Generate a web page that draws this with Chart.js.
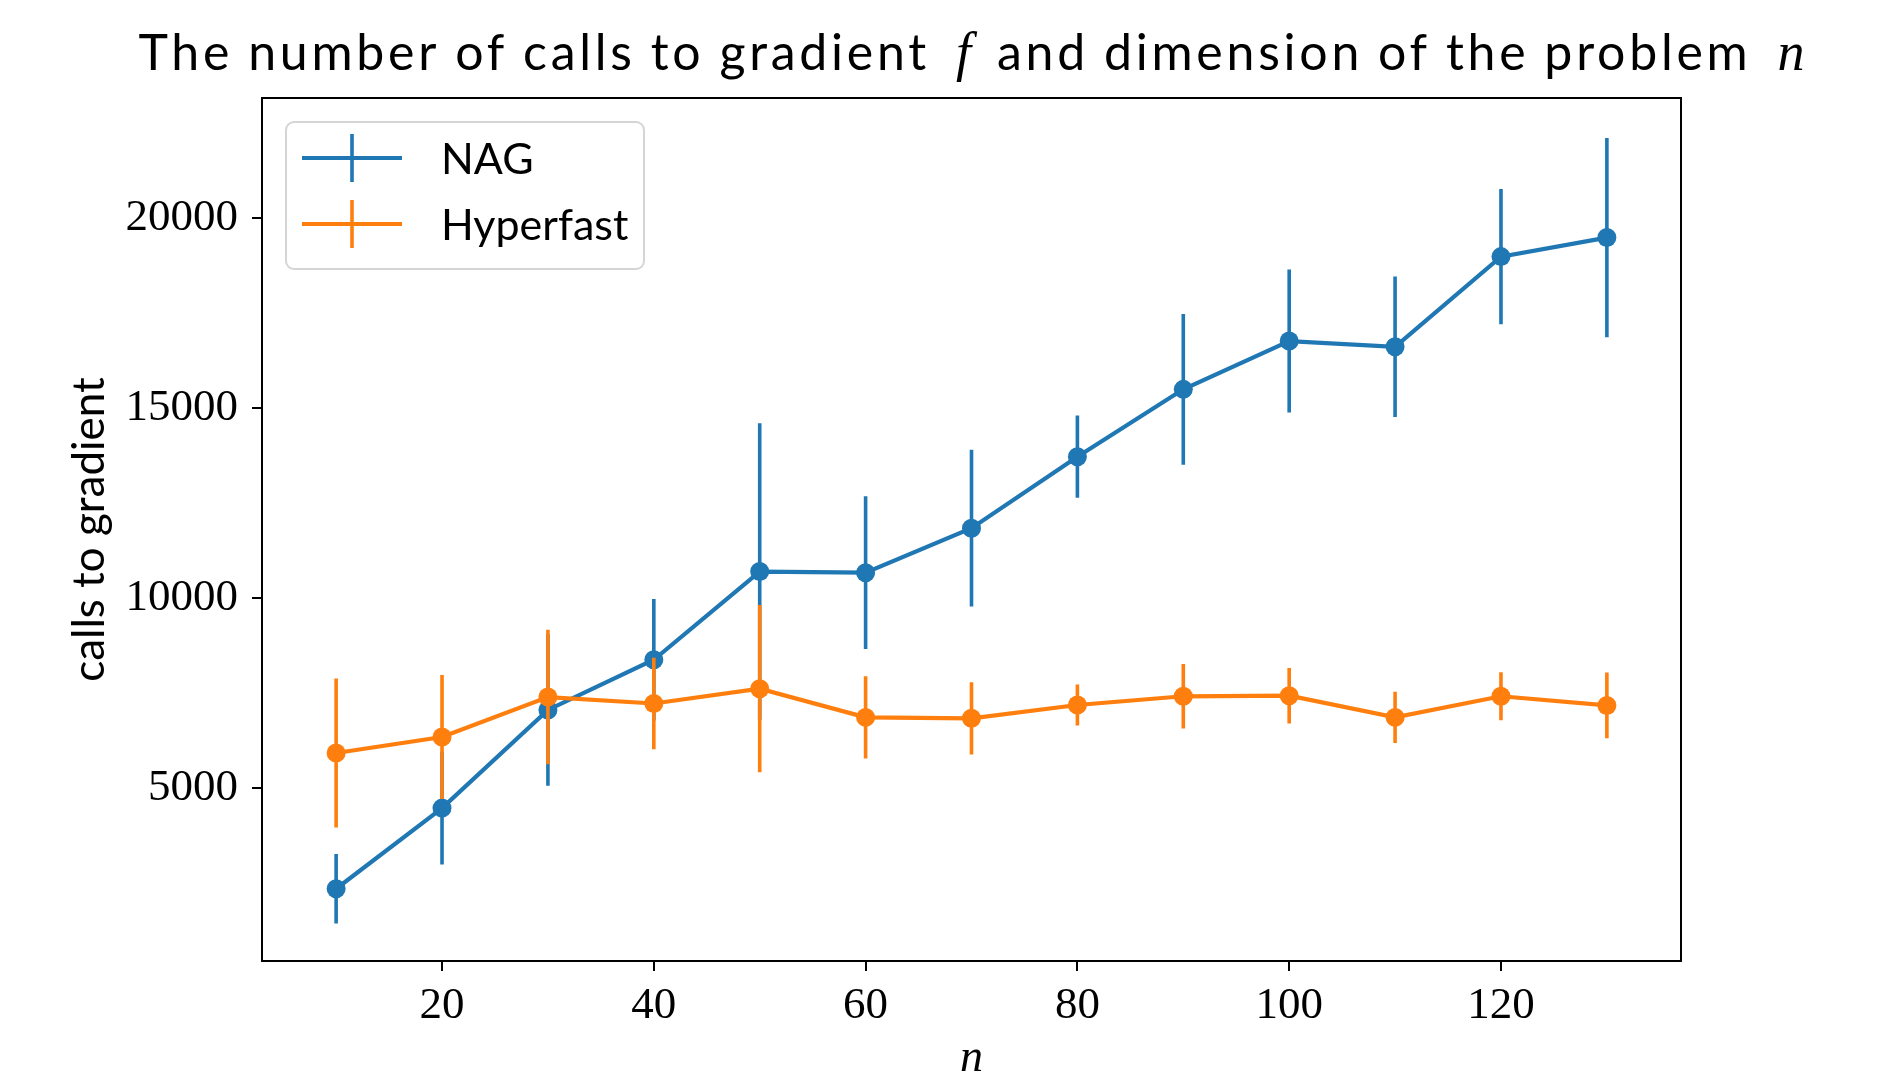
<!DOCTYPE html>
<html>
<head>
<meta charset="utf-8">
<script src="https://cdn.jsdelivr.net/npm/chart.js@4.4.1/dist/chart.umd.min.js"></script>
<style>
  html, body { margin: 0; padding: 0; background: #fff; }
  #wrap { width: 1882px; height: 1076px; }
</style>
</head>
<body>
<div id="wrap"><canvas id="chart" width="1882" height="1076"></canvas></div>
<script>
/* ================= DATA ================= */
const nValues = [10, 20, 30, 40, 50, 60, 70, 80, 90, 100, 110, 120, 130];

const nagMean = [2360, 4480, 7060, 8380, 10700, 10670, 11840, 13720, 15490, 16760, 16610, 18980, 19480];
const nagErr = [915, 1480, 1990, 1600, 3900, 2010, 2060, 1080, 1980, 1880, 1845, 1780, 2620];

const hyperMean = [5930, 6350, 7400, 7230, 7620, 6865, 6840, 7190, 7420, 7435, 6865, 7420, 7180];
const hyperErr = [1960, 1630, 1770, 1200, 2200, 1080, 950, 540, 850, 730, 675, 630, 865];

const xTicks = [20, 40, 60, 80, 100, 120];
const yTicks = [5000, 10000, 15000, 20000];

const seriesNames = ["NAG", "Hyperfast"];

// title words; math ones are set in italic serif
const titleWords = [
  "The", "number", "of", "calls", "to", "gradient", "$f", "and",
  "dimension", "of", "the", "problem", "$n"
];

/* ================= STYLE ================= */
const BLUE = "#1f77b4";
const ORANGE = "#ff7f0e";
const SANS = "Lato";
const SERIF = "'Liberation Serif'";
const TITLE_WIDTH = 1666;

const toPoints = (ys) => nValues.map((n, i) => ({ x: n, y: ys[i] }));

/* ================= PLUGINS ================= */
// vertical error bars, drawn just before their own series so layering matches
const errorBars = {
  id: "errorBars",
  beforeDatasetDraw(chart, args) {
    const ds = chart.data.datasets[args.index];
    if (!ds.errors) return;
    const { ctx, chartArea, scales: { x, y } } = chart;
    ctx.save();
    ctx.beginPath();
    ctx.rect(chartArea.left, chartArea.top, chartArea.width, chartArea.height);
    ctx.clip();
    ctx.strokeStyle = ds.borderColor;
    ctx.lineWidth = 3.6;
    ctx.beginPath();
    ds.data.forEach((p, i) => {
      const px = x.getPixelForValue(p.x);
      ctx.moveTo(px, y.getPixelForValue(p.y + ds.errors[i]));
      ctx.lineTo(px, y.getPixelForValue(p.y - ds.errors[i]));
    });
    ctx.stroke();
    ctx.restore();
  }
};

// top/right spines, title with math parts, legend inside the axes
const decorations = {
  id: "decorations",
  afterDraw(chart) {
    const { ctx, chartArea } = chart;
    ctx.save();

    // spines
    ctx.strokeStyle = "#000";
    ctx.lineWidth = 2;
    ctx.beginPath();
    ctx.moveTo(chartArea.left, chartArea.top);
    ctx.lineTo(chartArea.right, chartArea.top);
    ctx.lineTo(chartArea.right, chartArea.bottom);
    ctx.stroke();

    // title: sans words, italic math, widened like the LaTeX line
    const words = titleWords.map(w => {
      const math = w.startsWith("$");
      return { text: math ? w.slice(1) : w, math, font: math ? `italic 54px ${SERIF}` : `50px ${SANS}` };
    });
    const gaps = words.slice(1).map((w, i) => (w.math || words[i].math) ? 26 : 15);
    let sum = 0, chars = 0;
    words.forEach(w => {
      ctx.font = w.font; w.w = ctx.measureText(w.text).width; sum += w.w;
      if (!w.math) chars += w.text.length;
    });
    const gapSum = gaps.reduce((a, b) => a + b, 0);
    const ls = Math.max(0, (TITLE_WIDTH - sum - gapSum) / chars);
    let tx = (chartArea.left + chartArea.right) / 2 - TITLE_WIDTH / 2;
    ctx.fillStyle = "#000";
    ctx.textBaseline = "alphabetic";
    ctx.textAlign = "left";
    words.forEach((w, i) => {
      ctx.font = w.font;
      ctx.letterSpacing = w.math ? "0px" : ls + "px";
      ctx.fillText(w.text, tx, 70);
      tx += w.w + (w.math ? 0 : ls * w.text.length) + (gaps[i] || 0);
    });
    ctx.letterSpacing = "0px";

    // legend
    const lx = 286, ly = 122, lw = 358, lh = 147;
    ctx.beginPath();
    ctx.roundRect(lx, ly, lw, lh, 8);
    ctx.fillStyle = "rgba(255,255,255,0.8)";
    ctx.fill();
    ctx.strokeStyle = "#d5d5d5";
    ctx.lineWidth = 2;
    ctx.stroke();

    const rows = [158, 224];
    chart.data.datasets.forEach((ds, i) => {
      const ry = rows[i];
      ctx.strokeStyle = ds.borderColor;
      ctx.lineWidth = 4.2;
      ctx.beginPath();
      ctx.moveTo(302, ry);
      ctx.lineTo(402, ry);
      ctx.stroke();
      ctx.lineWidth = 3.6;
      ctx.beginPath();
      ctx.moveTo(352, ry - 24);
      ctx.lineTo(352, ry + 24);
      ctx.stroke();
      ctx.fillStyle = "#000";
      ctx.font = `43px ${SANS}`;
      ctx.fillText(ds.label, 441, ry + 16);
    });

    ctx.restore();
  }
};

/* ================= CHART ================= */
const ctx = document.getElementById("chart").getContext("2d");

new Chart(ctx, {
  type: "line",
  data: {
    datasets: [
      {
        label: seriesNames[0],
        data: toPoints(nagMean),
        errors: nagErr,
        borderColor: BLUE,
        backgroundColor: BLUE,
        pointBackgroundColor: BLUE,
        borderWidth: 4.2,
        pointRadius: 9.5,
        pointBorderWidth: 0,
        tension: 0,
        order: 1
      },
      {
        label: seriesNames[1],
        data: toPoints(hyperMean),
        errors: hyperErr,
        borderColor: ORANGE,
        backgroundColor: ORANGE,
        pointBackgroundColor: ORANGE,
        borderWidth: 4.2,
        pointRadius: 9.5,
        pointBorderWidth: 0,
        tension: 0,
        order: 0
      }
    ]
  },
  options: {
    responsive: false,
    animation: false,
    layout: { padding: { top: 98, right: 201, left: 0, bottom: 0 } },
    plugins: {
      legend: { display: false },
      tooltip: { enabled: false }
    },
    scales: {
      x: {
        type: "linear",
        min: 3,
        max: 137,
        afterBuildTicks: s => { s.ticks = xTicks.map(v => ({ value: v })); },
        afterFit: s => { s.height = 115; },
        grid: { drawOnChartArea: false, drawTicks: true, tickLength: 10, color: "#000", lineWidth: 2 },
        border: { display: true, color: "#000", width: 2 },
        ticks: {
          color: "#000",
          autoSkip: false,
          maxRotation: 0,
          padding: 8,
          font: { family: SERIF, size: 45 },
          callback: v => String(v)
        },
        title: {
          display: true,
          text: "n",
          color: "#000",
          padding: 0,
          font: { family: SERIF, size: 46, style: "italic", lineHeight: 0.74 }
        }
      },
      y: {
        type: "linear",
        min: 460,
        max: 23150,
        afterBuildTicks: s => { s.ticks = yTicks.map(v => ({ value: v })); },
        afterFit: s => { s.width = 262; },
        grid: { drawOnChartArea: false, drawTicks: true, tickLength: 10, color: "#000", lineWidth: 2 },
        border: { display: true, color: "#000", width: 2 },
        ticks: {
          color: "#000",
          autoSkip: false,
          padding: 14,
          font: { family: SERIF, size: 45 },
          callback: v => String(v)
        },
        title: {
          display: true,
          text: "calls to gradient",
          color: "#000",
          padding: { top: 63, bottom: 0 },
          font: { family: SANS, size: 44, lineHeight: 1.2 }
        }
      }
    }
  },
  plugins: [errorBars, decorations]
});
</script>
</body>
</html>
